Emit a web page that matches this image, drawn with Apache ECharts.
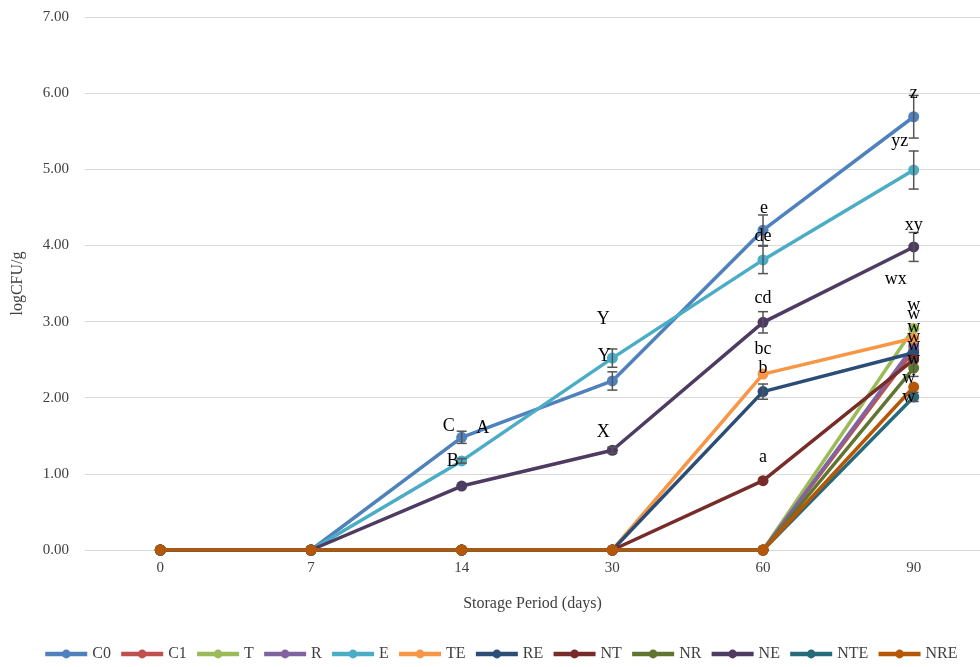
<!DOCTYPE html>
<html>
<head>
<meta charset="utf-8">
<script src="https://cdn.jsdelivr.net/npm/echarts@6/dist/echarts.min.js"></script>
<style>html,body{margin:0;padding:0;background:#fff;}#c{width:980px;height:667px;}</style>
</head>
<body>
<div id="c"></div>
<script>
const categories = ['0', '7', '14', '30', '60', '90'];
const yTicks = [0, 1, 2, 3, 4, 5, 6, 7];

const seriesNames = ['C0', 'C1', 'T', 'R', 'E', 'TE', 'RE', 'NT', 'NR', 'NE', 'NTE', 'NRE'];
const C0  = [0, 0, 1.48, 2.22, 4.20, 5.69];
const C1  = [0, 0, 0, 0, 0, 2.62];
const T   = [0, 0, 0, 0, 0, 2.91];
const R   = [0, 0, 0, 0, 0, 2.68];
const E   = [0, 0, 1.17, 2.52, 3.81, 4.99];
const TE  = [0, 0, 0, 0, 2.31, 2.78];
const RE  = [0, 0, 0, 0, 2.08, 2.59];
const NT  = [0, 0, 0, 0, 0.91, 2.50];
const NR  = [0, 0, 0, 0, 0, 2.39];
const NE  = [0, 0, 0.84, 1.31, 2.99, 3.98];
const NTE = [0, 0, 0, 0, 0, 2.01];
const NRE = [0, 0, 0, 0, 0, 2.14];
const seriesValues = [C0, C1, T, R, E, TE, RE, NT, NR, NE, NTE, NRE];

// standard deviations (error bars)
const errC0 = [0, 0, 0.08, 0.12, 0.20, 0.28];
const errE  = [0, 0, 0.03, 0.12, 0.18, 0.25];
const errNE = [0, 0, 0, 0.04, 0.14, 0.19];
const errRE = [0, 0, 0, 0, 0.10, 0];
const errNR = [0, 0, 0, 0, 0, 0.11];
const errNTE = [0, 0, 0, 0, 0, 0.06];
const errorSets = [[C0, errC0], [E, errE], [NE, errNE], [RE, errRE], [NR, errNR], [NTE, errNTE]];

// significance letters: text, category index, y value
const annoText = ['C', 'A', 'B', 'Y', 'Y', 'X', 'e', 'de', 'cd', 'bc', 'b', 'a', 'z', 'yz', 'xy', 'wx', 'w', 'w', 'w', 'w', 'w', 'w', 'w', 'w'];
const annoCat  = [2, 2, 2, 3, 3, 3, 4, 4, 4, 4, 4, 4, 5, 5, 5, 5, 5, 5, 5, 5, 5, 5, 5, 5];
const annoY    = [1.62, 1.60, 1.16, 3.03, 2.55, 1.54, 4.49, 4.12, 3.30, 2.63, 2.39, 1.22, 6.00, 5.37, 4.27, 3.56, 3.22, 3.10, 2.92, 2.80, 2.69, 2.50, 2.25, 2.01];
// horizontal label offsets (style)
const annoDx   = [-13, 21, -9, -9, -8, -9, 1, 0, 0, 0, 0, 0, 0, -14, 0, -18, 0, 0, 0, 0, 0, 0, -5, -5];

const colors = ['#4F81BD', '#C0504D', '#9BBB59', '#8064A2', '#4BACC6', '#F79646', '#2C4D75', '#772C2A', '#5F7530', '#4D3B62', '#276A7C', '#B65708'];

const serif = '"Liberation Serif", "DejaVu Serif", serif';

const series = seriesNames.map((n, i) => ({
  name: n,
  type: 'line',
  data: seriesValues[i].map((v, k) => [k, v]),
  symbol: 'circle',
  symbolSize: 11,
  lineStyle: { width: 3.5, color: colors[i] },
  itemStyle: { color: colors[i] },
  z: 2 + i,
  animation: false
}));

const errData = [];
errorSets.forEach(([vals, errs]) => {
  vals.forEach((v, k) => { if (errs[k] > 0) errData.push([k, v - errs[k], v + errs[k]]); });
});

series.push({
  type: 'custom',
  name: 'err',
  z: 20,
  animation: false,
  data: errData,
  renderItem: function (params, api) {
    const lo = api.coord([api.value(0), api.value(1)]);
    const hi = api.coord([api.value(0), api.value(2)]);
    const w = 5;
    const st = { stroke: '#555', lineWidth: 1.5 };
    return {
      type: 'group',
      children: [
        { type: 'line', shape: { x1: lo[0], y1: lo[1], x2: hi[0], y2: hi[1] }, style: st },
        { type: 'line', shape: { x1: lo[0] - w, y1: lo[1], x2: lo[0] + w, y2: lo[1] }, style: st },
        { type: 'line', shape: { x1: hi[0] - w, y1: hi[1], x2: hi[0] + w, y2: hi[1] }, style: st }
      ]
    };
  }
});

series.push({
  type: 'custom',
  name: 'labels',
  z: 30,
  animation: false,
  data: annoCat.map((c, i) => [c, annoY[i]]),
  renderItem: function (params, api) {
    const i = params.dataIndex;
    const p = api.coord([api.value(0), api.value(1)]);
    return {
      type: 'text',
      x: p[0] + annoDx[i],
      y: p[1],
      style: { text: annoText[i], fill: '#000', font: '18px ' + serif, textAlign: 'center', textVerticalAlign: 'middle' }
    };
  }
});

const chart = echarts.init(document.getElementById('c'), null, { renderer: 'canvas' });
chart.setOption({
  backgroundColor: '#fff',
  animation: false,
  grid: { left: 85, top: 17, right: 0, bottom: 117 },
  legend: {
    data: seriesNames,
    bottom: 0,
    left: 38,
    itemWidth: 42,
    itemHeight: 11,
    itemGap: 8,
    lineStyle: { width: 4.5 },
    textStyle: { fontFamily: serif, fontSize: 16, color: '#404040' }
  },
  xAxis: {
    type: 'value',
    min: -0.5,
    max: 5.44,
    name: 'Storage Period (days)',
    nameLocation: 'middle',
    nameGap: 46,
    nameTextStyle: { fontFamily: serif, fontSize: 16, color: '#404040' },
    axisLine: { show: true, lineStyle: { color: '#d9d9d9' } },
    axisTick: { show: false },
    splitLine: { show: false },
    axisLabel: {
      customValues: categories.map((c, k) => k),
      fontFamily: serif, fontSize: 15, color: '#404040', margin: 11,
      formatter: v => categories[Math.round(v)]
    }
  },
  yAxis: {
    type: 'value',
    min: 0, max: 7, interval: 1,
    name: 'logCFU/g',
    nameLocation: 'middle',
    nameGap: 59,
    nameTextStyle: { fontFamily: serif, fontSize: 16, color: '#404040' },
    axisLine: { show: false },
    axisTick: { show: false },
    splitLine: { lineStyle: { color: '#d9d9d9', width: 1 } },
    axisLabel: { fontFamily: serif, fontSize: 15, color: '#404040', margin: 16, formatter: v => yTicks.includes(v) ? v.toFixed(2) : '' }
  },
  series: series
});
</script>
</body>
</html>
